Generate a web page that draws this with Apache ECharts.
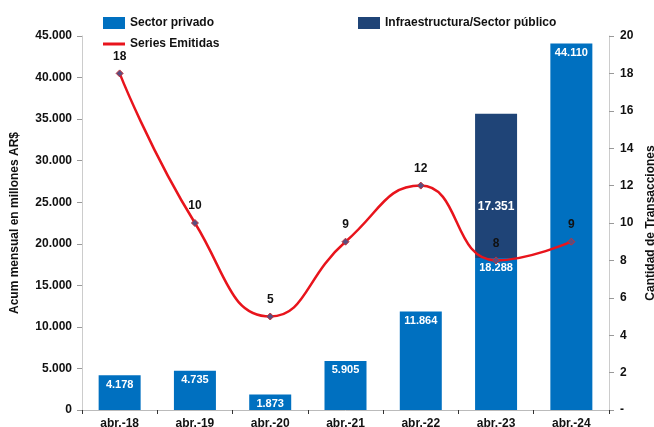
<!DOCTYPE html>
<html>
<head>
<meta charset="utf-8">
<script src="https://cdn.jsdelivr.net/npm/echarts@6/dist/echarts.min.js"></script>
<style>
  html, body { margin: 0; padding: 0; background: #fff; }
  #chart { width: 654px; height: 427px; }
</style>
</head>
<body>
<div id="chart"></div>
<script>
// datos
const categories = ['abr.-18', 'abr.-19', 'abr.-20', 'abr.-21', 'abr.-22', 'abr.-23', 'abr.-24'];
const sectorPrivado = [4178, 4735, 1873, 5905, 11864, 18288, 44110];
const sectorPublico = [null, null, null, null, null, 17351, null];
const seriesEmitidas = [18, 10, 5, 9, 12, 8, 9];

function fmt(v) {
  return String(v).replace(/\B(?=(\d{3})+(?!\d))/g, '.');
}

const font = 'Liberation Sans, Arial, sans-serif';
const chart = echarts.init(document.getElementById('chart'));

chart.setOption({
  animation: false,
  textStyle: { fontFamily: font },
  grid: { left: 82, right: 45, top: 36, bottom: 17, outerBoundsMode: 'none', containLabel: false },
  legend: [
    {
      data: ['Sector privado'], left: 98, top: 12, icon: 'rect',
      itemWidth: 22, itemHeight: 12, itemGap: 8,
      textStyle: { fontFamily: font, fontWeight: 'bold', fontSize: 12, color: '#111' }
    },
    {
      data: ['Infraestructura/Sector público'], left: 353, top: 12, icon: 'rect',
      itemWidth: 22, itemHeight: 12,
      textStyle: { fontFamily: font, fontWeight: 'bold', fontSize: 12, color: '#111' }
    },
    {
      data: ['Series Emitidas'], left: 98, top: 33, icon: 'rect',
      itemWidth: 22, itemHeight: 3,
      itemStyle: { color: '#E8141C', borderWidth: 0 },
      textStyle: { fontFamily: font, fontWeight: 'bold', fontSize: 12, color: '#111' }
    }
  ],
  xAxis: {
    type: 'category',
    data: categories,
    axisLine: { lineStyle: { color: '#bbb' } },
    axisTick: { show: true, alignWithLabel: false, length: 4, lineStyle: { color: '#333' } },
    axisLabel: { fontFamily: font, fontWeight: 'bold', fontSize: 12, color: '#111', margin: 8 }
  },
  yAxis: [
    {
      type: 'value', min: 0, max: 45000, interval: 5000,
      name: 'Acum mensual en millones AR$',
      nameLocation: 'middle', nameGap: 61, nameRotate: 90,
      nameTextStyle: { fontFamily: font, fontWeight: 'bold', fontSize: 12, color: '#111' },
      axisLine: { show: true, lineStyle: { color: '#ccc' } },
      axisTick: { show: true, length: 5, lineStyle: { color: '#999' } },
      splitLine: { show: false },
      axisLabel: { fontFamily: font, fontWeight: 'bold', fontSize: 12, color: '#111', margin: 10, formatter: fmt }
    },
    {
      type: 'value', min: 0, max: 20, interval: 2,
      name: 'Cantidad de Transacciones',
      nameLocation: 'middle', nameGap: 31, nameRotate: 90,
      nameTextStyle: { fontFamily: font, fontWeight: 'bold', fontSize: 12, color: '#111' },
      axisLine: { show: true, lineStyle: { color: '#ccc' } },
      axisTick: { show: true, length: 5, lineStyle: { color: '#999' } },
      splitLine: { show: false },
      axisLabel: {
        fontFamily: font, fontWeight: 'bold', fontSize: 12, color: '#111', margin: 11,
        formatter: v => (v === 0 ? '-' : String(v))
      }
    }
  ],
  series: [
    {
      name: 'Sector privado',
      type: 'bar',
      stack: 'total',
      barWidth: 42,
      data: sectorPrivado,
      itemStyle: { color: '#0070C0' },
      label: {
        show: true, position: 'insideTop', distance: 4,
        color: '#fff', fontWeight: 'bold', fontSize: 11, fontFamily: font,
        formatter: p => fmt(p.value)
      }
    },
    {
      name: 'Infraestructura/Sector público',
      type: 'bar',
      stack: 'total',
      barWidth: 42,
      data: sectorPublico,
      itemStyle: { color: '#1F4477' },
      label: {
        show: true, position: 'inside', offset: [0, 21],
        color: '#fff', fontWeight: 'bold', fontSize: 12, fontFamily: font,
        formatter: p => fmt(p.value)
      }
    },
    {
      name: 'Series Emitidas',
      type: 'line',
      yAxisIndex: 1,
      smooth: 0.5,
      data: seriesEmitidas,
      symbol: 'diamond',
      symbolSize: 7,
      lineStyle: { color: '#E8141C', width: 2.5 },
      itemStyle: { color: '#5A4E7E', borderColor: '#C0303A', borderWidth: 1 },
      label: {
        show: true, position: 'top', distance: 7,
        color: '#111', fontWeight: 'bold', fontSize: 12, fontFamily: font
      },
      z: 5
    }
  ]
});
</script>
</body>
</html>
